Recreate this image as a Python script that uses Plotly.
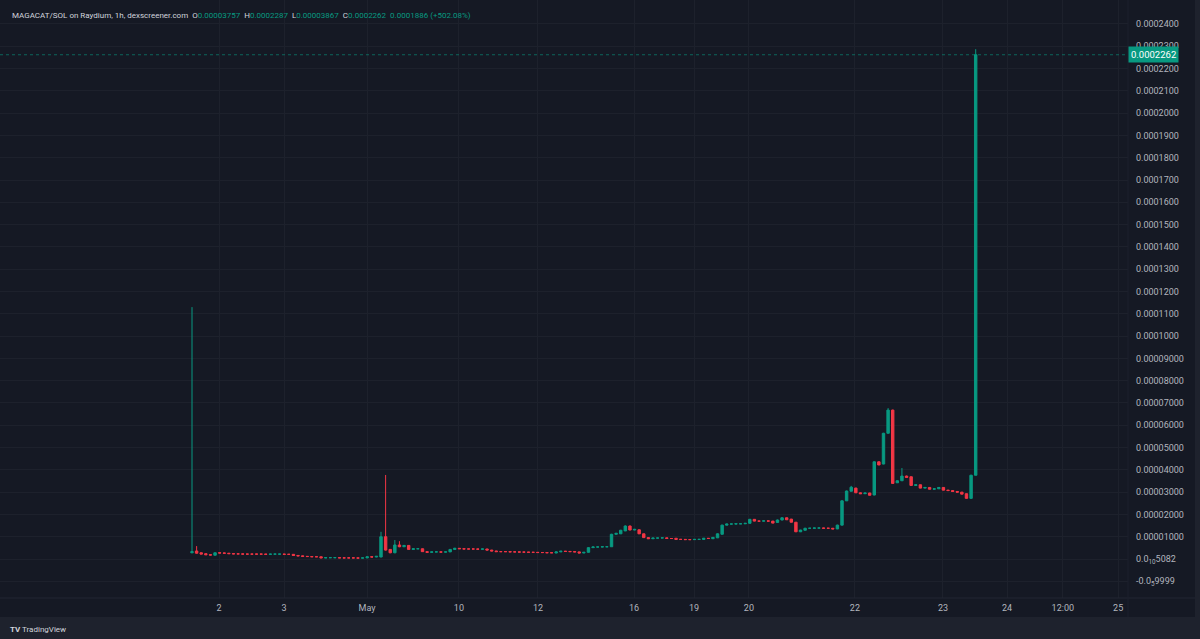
import plotly.graph_objects as go

SCALE = 1e-5  # values below are in units of 0.00001 SOL

open_e5 = [
    0.28, 0.36, 0.28, 0.24, 0.19, 0.17, 0.28, 0.27, 0.26, 0.24,
    0.23, 0.23, 0.22, 0.22, 0.22, 0.22, 0.22, 0.21, 0.22, 0.22,
    0.22, 0.21, 0.21, 0.16, 0.14, 0.12, 0.11, 0.10, 0.10, 0.05,
    0.06, 0.06, 0.06, 0.05, 0.05, 0.05, 0.05, 0.04, 0.05, 0.10,
    0.09, 0.09, 1.00, 0.43, 0.28, 0.63, 0.55, 0.61, 0.43, 0.46,
    0.46, 0.33, 0.30, 0.32, 0.32, 0.31, 0.32, 0.43, 0.48, 0.46,
    0.45, 0.45, 0.45, 0.44, 0.45, 0.40, 0.36, 0.33, 0.33, 0.33,
    0.32, 0.32, 0.31, 0.31, 0.30, 0.30, 0.29, 0.29, 0.28, 0.27,
    0.32, 0.35, 0.34, 0.33, 0.32, 0.27, 0.30, 0.51, 0.54, 0.54,
    0.55, 0.55, 1.11, 1.13, 1.26, 1.48, 1.30, 1.31, 1.13, 0.96,
    0.91, 0.94, 0.94, 0.95, 0.92, 0.93, 0.88, 0.88, 0.87, 0.87,
    0.88, 0.88, 0.93, 0.91, 0.95, 1.11, 1.52, 1.57, 1.57, 1.58,
    1.58, 1.60, 1.78, 1.70, 1.70, 1.71, 1.70, 1.64, 1.75, 1.85,
    1.79, 1.65, 1.22, 1.29, 1.38, 1.38, 1.39, 1.39, 1.38, 1.38,
    1.35, 1.52, 2.61, 3.04, 3.18, 2.97, 2.93, 2.96, 2.87, 4.36,
    4.26, 5.64, 6.68, 3.42, 3.51, 3.72, 3.69, 3.30, 3.33, 3.18,
    3.21, 3.13, 3.15, 3.21, 3.09, 3.07, 3.03, 3.00, 2.93, 2.72,
    3.757,
]
high_e5 = [
    11.30, 0.58, 0.29, 0.25, 0.20, 0.29, 0.29, 0.28, 0.27, 0.25,
    0.24, 0.24, 0.23, 0.23, 0.23, 0.23, 0.23, 0.23, 0.23, 0.23,
    0.23, 0.22, 0.22, 0.17, 0.15, 0.13, 0.12, 0.11, 0.11, 0.07,
    0.07, 0.07, 0.07, 0.06, 0.06, 0.06, 0.06, 0.06, 0.11, 0.11,
    0.13, 1.22, 3.77, 0.45, 0.85, 0.80, 0.63, 0.62, 0.47, 0.47,
    0.47, 0.34, 0.33, 0.33, 0.33, 0.33, 0.44, 0.50, 0.49, 0.47,
    0.46, 0.46, 0.46, 0.46, 0.46, 0.41, 0.37, 0.34, 0.34, 0.34,
    0.33, 0.33, 0.32, 0.32, 0.31, 0.31, 0.30, 0.30, 0.29, 0.33,
    0.36, 0.36, 0.35, 0.34, 0.33, 0.31, 0.53, 0.56, 0.55, 0.56,
    0.56, 1.13, 1.17, 1.31, 1.51, 1.50, 1.35, 1.33, 1.14, 0.97,
    0.95, 0.95, 0.96, 0.96, 0.93, 0.94, 0.89, 0.89, 0.88, 0.89,
    0.89, 0.94, 0.94, 0.98, 1.15, 1.54, 1.58, 1.58, 1.59, 1.59,
    1.61, 1.80, 1.79, 1.71, 1.72, 1.72, 1.71, 1.77, 1.87, 1.86,
    1.80, 1.66, 1.31, 1.40, 1.39, 1.40, 1.40, 1.40, 1.39, 1.39,
    1.54, 2.63, 3.07, 3.28, 3.20, 2.98, 2.97, 2.97, 4.38, 4.38,
    5.66, 6.77, 6.70, 3.53, 4.08, 3.74, 3.70, 3.34, 3.34, 3.22,
    3.22, 3.16, 3.22, 3.22, 3.10, 3.08, 3.04, 3.01, 2.94, 3.78,
    22.87,
]
low_e5 = [
    0.26, 0.24, 0.21, 0.18, 0.17, 0.16, 0.26, 0.25, 0.23, 0.22,
    0.22, 0.21, 0.21, 0.21, 0.21, 0.21, 0.20, 0.20, 0.21, 0.21,
    0.20, 0.20, 0.15, 0.13, 0.11, 0.10, 0.09, 0.09, 0.04, 0.04,
    0.05, 0.05, 0.04, 0.04, 0.04, 0.04, 0.03, 0.03, 0.04, 0.08,
    0.08, 0.08, 0.38, 0.26, 0.26, 0.53, 0.54, 0.42, 0.42, 0.45,
    0.32, 0.29, 0.29, 0.31, 0.30, 0.30, 0.31, 0.42, 0.45, 0.44,
    0.44, 0.44, 0.43, 0.43, 0.39, 0.35, 0.32, 0.32, 0.32, 0.31,
    0.31, 0.30, 0.30, 0.29, 0.29, 0.28, 0.28, 0.27, 0.27, 0.26,
    0.31, 0.33, 0.32, 0.31, 0.26, 0.26, 0.29, 0.50, 0.53, 0.53,
    0.54, 0.54, 1.10, 1.12, 1.25, 1.29, 1.29, 1.12, 0.95, 0.90,
    0.90, 0.93, 0.93, 0.91, 0.91, 0.87, 0.87, 0.86, 0.86, 0.86,
    0.87, 0.87, 0.91, 0.90, 0.94, 1.10, 1.51, 1.56, 1.56, 1.57,
    1.57, 1.59, 1.69, 1.69, 1.69, 1.69, 1.60, 1.63, 1.74, 1.75,
    1.64, 1.21, 1.21, 1.28, 1.37, 1.37, 1.38, 1.37, 1.37, 1.34,
    1.34, 1.51, 2.60, 3.03, 2.96, 2.92, 2.92, 2.85, 2.86, 4.21,
    4.25, 5.63, 3.38, 3.41, 3.50, 3.65, 3.29, 3.29, 3.17, 3.17,
    3.12, 3.12, 3.14, 3.08, 3.06, 3.02, 2.99, 2.90, 2.71, 2.71,
    3.757,
]
close_e5 = [
    0.33, 0.26, 0.22, 0.19, 0.18, 0.28, 0.27, 0.26, 0.24, 0.23,
    0.23, 0.22, 0.22, 0.22, 0.22, 0.22, 0.21, 0.22, 0.22, 0.22,
    0.21, 0.21, 0.16, 0.14, 0.12, 0.11, 0.10, 0.10, 0.05, 0.06,
    0.06, 0.06, 0.05, 0.05, 0.05, 0.05, 0.04, 0.05, 0.10, 0.09,
    0.12, 1.00, 0.40, 0.28, 0.63, 0.55, 0.61, 0.43, 0.46, 0.46,
    0.33, 0.30, 0.32, 0.32, 0.31, 0.32, 0.43, 0.48, 0.46, 0.45,
    0.45, 0.45, 0.44, 0.45, 0.40, 0.36, 0.33, 0.33, 0.33, 0.32,
    0.32, 0.31, 0.31, 0.30, 0.30, 0.29, 0.29, 0.28, 0.28, 0.32,
    0.35, 0.34, 0.33, 0.32, 0.27, 0.30, 0.51, 0.54, 0.54, 0.55,
    0.55, 1.11, 1.15, 1.29, 1.48, 1.30, 1.33, 1.13, 0.96, 0.91,
    0.94, 0.94, 0.95, 0.92, 0.92, 0.88, 0.88, 0.87, 0.87, 0.88,
    0.88, 0.93, 0.92, 0.97, 1.13, 1.52, 1.57, 1.57, 1.58, 1.58,
    1.60, 1.78, 1.70, 1.70, 1.71, 1.70, 1.61, 1.75, 1.85, 1.76,
    1.65, 1.22, 1.30, 1.38, 1.38, 1.39, 1.39, 1.38, 1.38, 1.35,
    1.52, 2.61, 3.05, 3.22, 2.97, 2.93, 2.96, 2.86, 4.36, 4.22,
    5.64, 6.68, 3.39, 3.51, 3.72, 3.66, 3.30, 3.33, 3.18, 3.21,
    3.13, 3.15, 3.21, 3.09, 3.07, 3.03, 3.00, 2.91, 2.72, 3.757,
    22.62,
]

bar_index = list(range(len(close_e5)))

x_tick_pos = [5.86, 19.96, 37.96, 57.9, 75.05, 95.9, 108.9, 120.8, 143.8, 162.9, 176.8, 188.9, 200.9]
x_tick_text = ["2", "3", "May", "10", "12", "16", "19", "20", "22", "23", "24", "12:00", "25"]

y_tick_vals = [-0.00001, 0.0, 0.00001, 0.00002, 0.00003, 0.00004, 0.00005, 0.00006, 0.00007,
               0.00008, 0.00009, 0.00010, 0.00011, 0.00012, 0.00013, 0.00014, 0.00015, 0.00016,
               0.00017, 0.00018, 0.00019, 0.00020, 0.00021, 0.00022, 0.00023, 0.00024]
y_tick_text = ["-0.0<sub>5</sub>9999", "0.0<sub>10</sub>5082", "0.00001000", "0.00002000", "0.00003000",
               "0.00004000", "0.00005000", "0.00006000", "0.00007000", "0.00008000", "0.00009000",
               "0.0001000", "0.0001100", "0.0001200", "0.0001300", "0.0001400", "0.0001500",
               "0.0001600", "0.0001700", "0.0001800", "0.0001900", "0.0002000", "0.0002100",
               "0.0002200", "0.0002300", "0.0002400"]

last_price = 0.0002262
last_price_text = "0.0002262"
header_name = "MAGACAT/SOL on Raydium, 1h, dexscreener.com"
header_ohlc = [("O", "0.00003757"), ("H", "0.0002287"), ("L", "0.00003867"), ("C", "0.0002262")]
header_change = "0.0001886 (+502.08%)"

GREEN = "#089981"
RED = "#f23645"
BG = "#151924"
FOOT = "#1e222d"
GRID = "#1d212c"
TXT = "#b2b5be"
FONT = "Roboto, Inter, sans-serif"

fig = go.Figure(go.Candlestick(
    x=bar_index,
    open=[v * SCALE for v in open_e5],
    high=[v * SCALE for v in high_e5],
    low=[v * SCALE for v in low_e5],
    close=[v * SCALE for v in close_e5],
    increasing=dict(line=dict(color=GREEN, width=1), fillcolor=GREEN),
    decreasing=dict(line=dict(color=RED, width=1), fillcolor=RED),
    whiskerwidth=0,
    showlegend=False,
    hoverinfo="skip",
))

W, H = 1200, 639
PL, PR, PT, PB = 0, 72, 0, 41
ph = H - PT - PB
pw = W - PL - PR

fig.update_layout(
    width=W, height=H,
    margin=dict(l=PL, r=PR, t=PT, b=PB),
    paper_bgcolor=FOOT,
    plot_bgcolor=BG,
    boxgap=0.25,
    font=dict(family=FONT, color=TXT, size=9),
    xaxis=dict(
        range=[-41.65, 203.04],
        tickmode="array", tickvals=x_tick_pos, ticktext=x_tick_text,
        showgrid=True, gridcolor=GRID, gridwidth=1,
        zeroline=False, showline=False, ticks="",
        rangeslider=dict(visible=False),
        tickfont=dict(size=9, color=TXT, family=FONT),
        ticklabelstandoff=3,
    ),
    yaxis=dict(
        side="right",
        range=[-1.749e-5, 2.5076e-4],
        tickmode="array", tickvals=y_tick_vals, ticktext=y_tick_text,
        showgrid=True, gridcolor=GRID, gridwidth=1,
        zeroline=False, showline=False, ticks="",
        tickfont=dict(size=9, color=TXT, family=FONT),
        ticklabelstandoff=7,
    ),
)

# chart background incl. axis strips
fig.add_shape(type="rect", xref="paper", yref="paper",
              x0=0, x1=1195 / pw, y0=-19 / ph, y1=1,
              fillcolor=BG, line=dict(width=0), layer="below")
# separators
fig.add_shape(type="line", xref="paper", yref="paper", x0=0, x1=1195 / pw, y0=0, y1=0,
              line=dict(color="#232733", width=1))
fig.add_shape(type="line", xref="paper", yref="paper", x0=1, x1=1, y0=-19 / ph, y1=1,
              line=dict(color="#1d212c", width=1))
# last price dotted line
fig.add_shape(type="line", xref="paper", yref="y", x0=0, x1=1, y0=last_price, y1=last_price,
              line=dict(color=GREEN, width=1, dash="dot"), opacity=0.6)

fig.add_annotation(xref="paper", yref="y", x=1, y=last_price, xanchor="left", yanchor="middle",
                   text=last_price_text, showarrow=False, bgcolor=GREEN,
                   font=dict(color="#ffffff", size=9.5, family=FONT), borderpad=2)

parts = [f'<span style="color:#d1d4dc">{header_name}</span>']
for k, v in header_ohlc:
    parts.append(f'<span style="color:#d1d4dc">{k}</span><span style="color:{GREEN}">{v}</span>')
parts.append(f'<span style="color:{GREEN}">{header_change}</span>')
fig.add_annotation(xref="paper", yref="paper", x=10 / pw, y=1, yshift=-15,
                   xanchor="left", yanchor="middle", showarrow=False,
                   text="  ".join(parts), font=dict(size=8, family=FONT))

fig.add_annotation(xref="paper", yref="paper", x=8 / pw, y=-31 / ph,
                   xanchor="left", yanchor="middle", showarrow=False,
                   text='<b>TV</b> TradingView', font=dict(size=8, color="#d1d4dc", family=FONT))

fig.write_html("out.html")
